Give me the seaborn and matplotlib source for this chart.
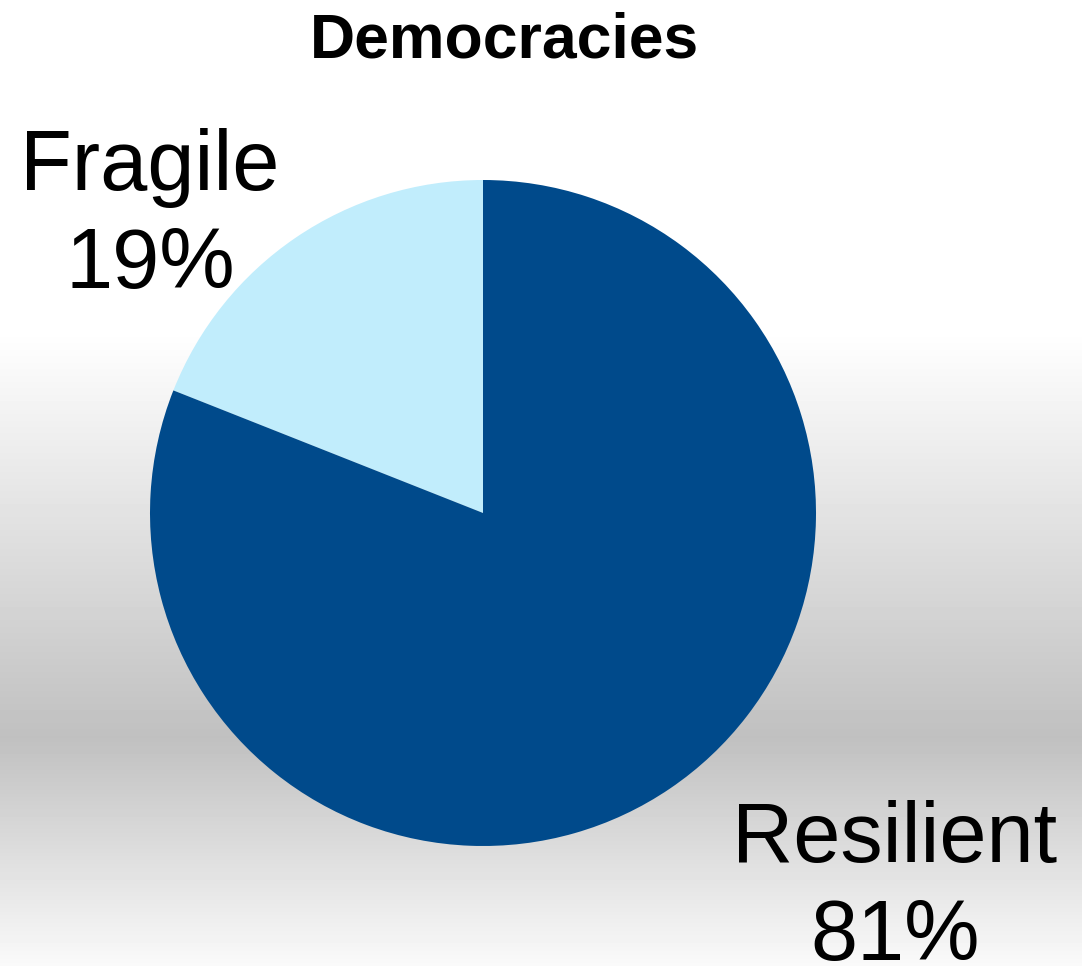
import numpy as np
import matplotlib
matplotlib.use("Agg")
import matplotlib.pyplot as plt
import seaborn as sns

sns.set_theme(style="white")
plt.rcParams['font.family'] = ['Liberation Sans', 'DejaVu Sans']

title = "Democracies"
categories = ["Fragile", "Resilient"]
values = [19, 81]
colors = ["#C1EDFC", "#004A8B"]

W, H = 1082, 966
fig = plt.figure(figsize=(W / 100, H / 100), dpi=100)

# background gradient (white top, gray band, light bottom)
bg = fig.add_axes([0, 0, 1, 1], zorder=0)
ys = np.arange(H)
g = np.interp(ys, [0, 330, 737, 966], [255, 255, 192, 250]) / 255.0
img = np.repeat(g[:, None], 4, axis=1)
bg.imshow(img, cmap="gray", vmin=0, vmax=1, aspect="auto", extent=[0, 1, 0, 1], origin="upper")
bg.set_axis_off()

# pie axes: center (483, 513), radius 333 px
cx, cy, r = 483, 513, 333
ax = fig.add_axes([(cx - r) / W, (H - cy - r) / H, 2 * r / W, 2 * r / H], zorder=1)
ax.set_facecolor("none")
ax.pie(values, colors=colors, startangle=90, counterclock=True, radius=1,
       wedgeprops=dict(linewidth=0))
ax.set_xlim(-1, 1)
ax.set_ylim(-1, 1)
ax.set_aspect("equal")
ax.set_axis_off()

# labels (line positions in data units relative to pie)
def px2data(x, y):
    return (x - cx) / r, (cy - y) / r

lab_pos = {"Fragile": [(150, 190), (150, 288)], "Resilient": [(895, 862), (895, 960)]}
for cat, val in zip(categories, values):
    (x1, y1), (x2, y2) = lab_pos[cat]
    dx, dy = px2data(x1, y1)
    ax.text(dx, dy, cat, ha="center", va="baseline", fontsize=61, color="black", clip_on=False)
    dx, dy = px2data(x2, y2)
    ax.text(dx, dy, f"{val}%", ha="center", va="baseline", fontsize=61, color="black", clip_on=False)

fig.text(505 / W, 1 - 57 / H, title, ha="center", va="baseline", fontsize=45,
         fontweight="bold", color="black")

fig.savefig("out.png", dpi=100)
